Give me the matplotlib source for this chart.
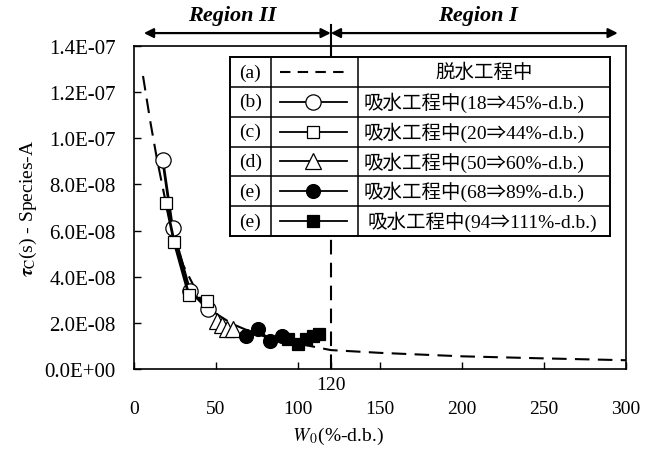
import matplotlib.pyplot as plt
import numpy as np
from matplotlib.ticker import FuncFormatter

plt.rcParams['font.family'] = ['Liberation Serif', 'Noto Sans CJK JP', 'DejaVu Sans']
plt.rcParams['mathtext.fontset'] = 'stix'

# (a) dewatering curve, values in units of 1e-8 s
xa = [5.5, 10, 14, 20, 25, 30, 40, 50, 60, 70, 80, 100, 120, 150, 200, 250, 300]
ya = [12.7, 10.7, 9.1, 7.0, 5.6, 4.5, 3.1, 2.4, 1.95, 1.65, 1.4, 1.1, 0.82, 0.7, 0.55, 0.46, 0.38]

# (b)-(e) water uptake series
xb = [17.5, 23.5, 34, 45]
yb = [9.07, 6.1, 3.4, 2.6]
xc = [19.5, 24.5, 33.5, 44.5]
yc = [7.2, 5.5, 3.2, 2.95]
xd = [50.5, 53.5, 57, 60.5]
yd = [2.1, 1.9, 1.75, 1.75]
xe = [68, 75.5, 83, 90]
ye = [1.43, 1.72, 1.22, 1.43]
xf = [94, 100, 105, 109, 113]
yf = [1.3, 1.1, 1.3, 1.45, 1.5]

row_tags = ['(a)', '(b)', '(c)', '(d)', '(e)', '(e)']
row_texts = ['脱水工程中',
             '吸水工程中(18⇒45%-d.b.)',
             '吸水工程中(20⇒44%-d.b.)',
             '吸水工程中(50⇒60%-d.b.)',
             '吸水工程中(68⇒89%-d.b.)',
             '吸水工程中(94⇒111%-d.b.)']

xticks = [0, 50, 100, 150, 200, 250, 300]
yticks = [0, 2e-8, 4e-8, 6e-8, 8e-8, 1e-7, 1.2e-7, 1.4e-7]
x_split = 120

e8 = 1e-8
fig = plt.figure(figsize=(6.59, 4.52), dpi=100)
ax = fig.add_axes([134/659, 82/452, 492/659, 323/452])
ax.set_xlim(0, 300)
ax.set_ylim(0, 1.4e-7)

ax.plot(xa, np.array(ya)*e8, 'k', lw=1.5, dashes=(7, 4))
ax.axvline(x_split, color='k', lw=1.5, dashes=(7, 4))

styles = [
    (xb, yb, dict(marker='o', ms=11, mfc='white')),
    (xc, yc, dict(marker='s', ms=9, mfc='white')),
    (xd, yd, dict(marker='^', ms=11, mfc='white')),
    (xe, ye, dict(marker='o', ms=10, mfc='black')),
    (xf, yf, dict(marker='s', ms=9, mfc='black')),
]
for xs, ys, st in styles:
    ax.plot(xs, np.array(ys)*e8, color='k', lw=2, mec='k', mew=0.9, **st)

ax.set_xticks(xticks)
ax.set_xticks([x_split], minor=True)
ax.set_yticks(yticks)
ax.yaxis.set_major_formatter(FuncFormatter(lambda v, p: f'{v:.1E}'))
ax.tick_params(axis='both', which='both', direction='in', length=5, width=1,
               labelsize=14, top=False, right=False)
ax.tick_params(axis='x', which='major', pad=22)
ax.tick_params(axis='y', pad=13, labelsize=15)
ax.text(x_split, -0.022, '120', transform=ax.get_xaxis_transform(),
        ha='center', va='top', fontsize=14)
for s in ax.spines.values():
    s.set_linewidth(1.2)

ax.set_xlabel(r'$W_{\,\rm 0}$(%-d.b.)', fontsize=14)
ax.xaxis.set_label_coords(0.415, -0.172)
ax.set_ylabel(r'$\boldsymbol{\tau}_{\rm C}$(s) - Species-A', fontsize=14, labelpad=4)

# region arrows above the plot
ya_arr = 1.456e-7
ax.annotate('', xy=(6, ya_arr), xytext=(x_split, ya_arr), annotation_clip=False,
            arrowprops=dict(arrowstyle='<|-|>', color='k', lw=1.6, mutation_scale=14,
                            shrinkA=0, shrinkB=0))
ax.annotate('', xy=(x_split, ya_arr), xytext=(295, ya_arr), annotation_clip=False,
            arrowprops=dict(arrowstyle='<|-|>', color='k', lw=1.6, mutation_scale=14,
                            shrinkA=0, shrinkB=0))
ax.plot([x_split, x_split], [1.35e-7, 1.49e-7], color='k', lw=1.5, clip_on=False)
ax.text(60, 1.535e-7, 'Region II', ha='center', va='center', fontsize=16,
        fontweight='bold', fontstyle='italic')
ax.text(210, 1.535e-7, 'Region I', ha='center', va='center', fontsize=16,
        fontweight='bold', fontstyle='italic')

# legend table
tb = fig.add_axes([230/659, (452-237)/452, 380/659, 179/452])
tb.set_xlim(0, 380)
tb.set_ylim(6, 0)
tb.set_xticks([])
tb.set_yticks([])
tb.set_facecolor('white')
for s in tb.spines.values():
    s.set_linewidth(1.4)
for r in range(1, 6):
    tb.axhline(r, color='k', lw=1.1)
for c in [41, 128]:
    tb.axvline(c, color='k', lw=1.1)

tb.plot([50, 117], [0.5, 0.5], 'k', lw=1.5, dashes=(5, 3.5))
for i, (xs, ys, st) in enumerate(styles):
    yy = i + 1.5
    tb.plot([50, 117], [yy, yy], color='k', lw=1.3)
    tb.plot([83], [yy], color='k', mec='k', mew=0.9, **st)

for i, (tag, txt) in enumerate(zip(row_tags, row_texts)):
    tb.text(20.5, i + 0.5, tag, ha='center', va='center', fontsize=14)
    if i == 0:
        tb.text(254, i + 0.5, txt, ha='center', va='center', fontsize=14)
    else:
        tb.text(134 if i < 5 else 138, i + 0.5, txt, ha='left', va='center', fontsize=14)

fig.savefig('out.png', dpi=100)
